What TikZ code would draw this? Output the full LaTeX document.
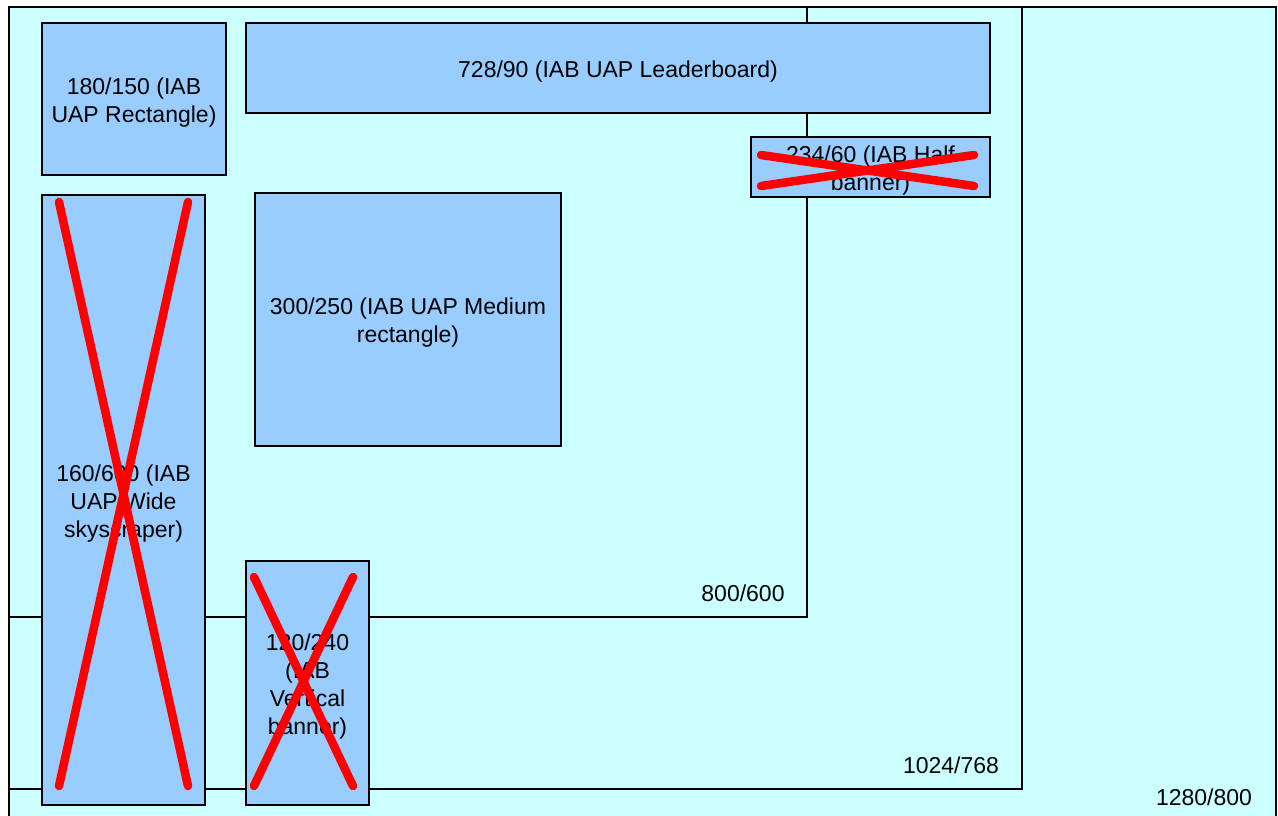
\documentclass[tikz,border=0pt]{standalone}
\usepackage{fontspec}
\setmainfont{Liberation Sans}
\begin{document}
\begin{tikzpicture}[x=1pt,y=-1pt,
  screen/.style={draw=black,line width=1.4pt,fill=scr},
  adbox/.style={draw=black,line width=1.4pt,fill=ad,inner sep=0pt,outer sep=0pt,anchor=north west},
  lbl/.style={font=\fontsize{23}{28}\selectfont,inner sep=0pt,align=center},
  cross/.style={draw=xred,line width=8.5pt,line cap=round}]
\definecolor{scr}{HTML}{CCFFFF}
\definecolor{ad}{HTML}{99CCFF}
\definecolor{xred}{HTML}{FF0000}
\useasboundingbox (0,0) rectangle (1278,816);
\fill[white] (0,0) rectangle (1278,816);
% screens
\draw[screen] (9,7) rectangle (1276,840);
\draw[line width=1.4pt] (9,7) rectangle (1022,789);
\draw[line width=1.4pt] (9,7) rectangle (807,617);
\node[lbl] (s800) at (743,593) {800/600};
\node[lbl] (s1024) at (951,765) {1024/768};
\node[lbl] (s1280) at (1204,797) {1280/800};
% ad boxes
\node[adbox,minimum width=184,minimum height=152] (rect) at (42,23) {};
\node[adbox,minimum width=744,minimum height=90] (leader) at (246,23) {};
\node[adbox,minimum width=239,minimum height=60] (half) at (751,137) {};
\node[adbox,minimum width=306,minimum height=253] (medium) at (255,193) {};
\node[adbox,minimum width=163,minimum height=610] (sky) at (42,195) {};
\node[adbox,minimum width=123,minimum height=244] (vert) at (246,561) {};
% labels
\node[lbl] (trect) at ([yshift=-3.5pt]rect.center) {180/150 (IAB\\UAP Rectangle)};
\node[lbl] (tleader) at ([yshift=-3.5pt]leader.center) {728/90 (IAB UAP Leaderboard)};
\node[lbl] (thalf) at ([yshift=-3.5pt]half.center) {234/60 (IAB Half\\banner)};
\node[lbl] (tmedium) at ([yshift=-3.5pt]medium.center) {300/250 (IAB UAP Medium\\rectangle)};
\node[lbl] (tsky) at ([yshift=-3.5pt]sky.center) {160/600 (IAB\\UAP Wide\\skyscraper)};
\node[lbl] (tvert) at ([yshift=-3.5pt]vert.center) {120/240\\(IAB\\Vertical\\banner)};
% crosses
\draw[cross] (59,202) -- (188,786) (188,202) -- (59,786);
\draw[cross] (254,577) -- (353,786) (353,577) -- (254,786);
\draw[cross] (761,155) -- (974,186) (761,186) -- (974,155);
\end{tikzpicture}
\end{document}
